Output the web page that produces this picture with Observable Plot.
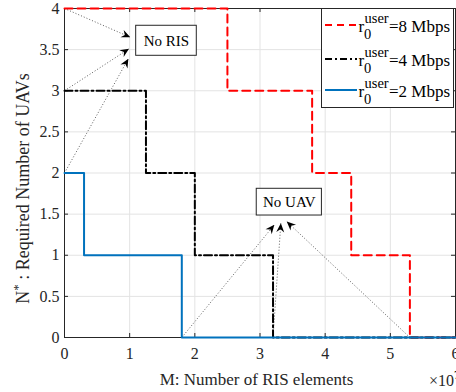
<!DOCTYPE html>
<html>
<head>
<meta charset="utf-8">
<script src="https://cdn.jsdelivr.net/npm/d3@7"></script>
<script src="https://cdn.jsdelivr.net/npm/@observablehq/plot@0.6"></script>
<style>
  html, body { margin: 0; padding: 0; background: #fff; }
  #chart svg { display: block; }
</style>
</head>
<body>
<div id="chart"></div>
<script>
// ---- data ----
const seriesNames = ["8 Mbps", "4 Mbps", "2 Mbps"];
const mRed = [0, 2.5, 3.8, 4.4, 5.3, 6];
const nRed = [4, 3, 2, 1, 0, 0];
const mBlack = [0, 1.25, 2.0, 3.2, 6];
const nBlack = [3, 2, 1, 0, 0];
const mBlue = [0, 0.3, 1.8, 6];
const nBlue = [2, 1, 0, 0];

const xTicks = [0, 1, 2, 3, 4, 5, 6];
const xTickLabels = ["0", "1", "2", "3", "4", "5", "6"];
const yTicks = [0, 0.5, 1, 1.5, 2, 2.5, 3, 3.5, 4];
const yTickLabels = ["0", "0.5", "1", "1.5", "2", "2.5", "3", "3.5", "4"];

const boxLabels = ["No RIS", "No UAV"];
const boxM1 = [1.10, 2.95];
const boxM2 = [2.03, 3.95];
const boxN1 = [3.425, 1.483];
const boxN2 = [3.79, 1.808];

const arrowFromM = [0, 0, 0, 1.8, 3.2, 5.3];
const arrowFromN = [4, 3, 2, 0, 0, 0];
const arrowToM = [1.01, 0.99, 0.98, 3.22, 3.32, 3.41];
const arrowToN = [3.65, 3.51, 3.39, 1.37, 1.39, 1.41];

// ---- helpers ----
const toPts = (ms, ns) => ms.map((m, i) => ({m, n: ns[i]}));
const serif = "'Liberation Serif', 'Times New Roman', serif";
const W = 456, H = 392, ML = 64, MR = 1, MT = 8, MB = 55;
const PW = W - ML - MR, PH = H - MT - MB;

function headMarker(color, context) {
  const doc = (context && context.document) || document;
  const ns = "http://www.w3.org/2000/svg";
  const mk = doc.createElementNS(ns, "marker");
  mk.setAttribute("viewBox", "-10 -5 10 10");
  mk.setAttribute("markerWidth", 10);
  mk.setAttribute("markerHeight", 10);
  mk.setAttribute("markerUnits", "userSpaceOnUse");
  mk.setAttribute("orient", "auto");
  mk.setAttribute("refX", 0);
  mk.setAttribute("refY", 0);
  const p = doc.createElementNS(ns, "path");
  p.setAttribute("d", "M-9,-4L0,0L-9,4L-6,0Z");
  p.setAttribute("fill", "#000");
  p.setAttribute("stroke", "none");
  p.setAttribute("stroke-dasharray", "none");
  mk.appendChild(p);
  return mk;
}

let arrowMark;
try {
  arrowMark = Plot.link(arrowFromM, {
    x1: arrowFromM, y1: arrowFromN, x2: arrowToM, y2: arrowToN,
    stroke: "#333", strokeWidth: 0.8, strokeDasharray: "1,2",
    markerEnd: headMarker
  });
} catch (e) {
  arrowMark = Plot.link(arrowFromM, {
    x1: arrowFromM, y1: arrowFromN, x2: arrowToM, y2: arrowToN,
    stroke: "#333", strokeWidth: 0.8, strokeDasharray: "1,2",
    markerEnd: "arrow"
  });
}

const plot = Plot.plot({
  width: W, height: H,
  marginLeft: ML, marginRight: MR, marginTop: MT, marginBottom: MB,
  style: {fontFamily: serif, background: "#fff", color: "#262626", overflow: "visible"},
  x: {domain: [0, 6]},
  y: {domain: [0, 4]},
  marks: [
    Plot.gridX(xTicks, {stroke: "#e3e3e3", strokeOpacity: 1}),
    Plot.gridY(yTicks, {stroke: "#e3e3e3", strokeOpacity: 1}),
    Plot.frame({stroke: "#262626", strokeWidth: 1}),
    Plot.ruleX(xTicks, {x: d => d, insetTop: PH - 4, stroke: "#262626"}),
    Plot.ruleX(xTicks, {x: d => d, insetBottom: PH - 4, stroke: "#262626"}),
    Plot.ruleY(yTicks, {y: d => d, insetRight: PW - 4, stroke: "#262626"}),
    Plot.ruleY(yTicks, {y: d => d, insetLeft: PW - 4, stroke: "#262626"}),
    Plot.axisX({ticks: xTicks, tickSize: 0, tickPadding: 10, fontSize: 16, label: null, fontFamily: serif,
      tickFormat: d => xTickLabels[xTicks.indexOf(d)], fill: "#262626"}),
    Plot.axisY({ticks: yTicks, tickSize: 0, tickPadding: 5, fontSize: 16, label: null, fontFamily: serif,
      tickFormat: d => yTickLabels[yTicks.indexOf(d)], fill: "#262626"}),
    arrowMark,
    Plot.line(toPts(mRed, nRed), {x: "m", y: "n", curve: "step-after", stroke: "#ff0000", strokeWidth: 2, strokeDasharray: "8,5"}),
    Plot.line(toPts(mBlack, nBlack), {x: "m", y: "n", curve: "step-after", stroke: "#000", strokeWidth: 2, strokeDasharray: "8,3,2,3"}),
    Plot.line(toPts(mBlue, nBlue), {x: "m", y: "n", curve: "step-after", stroke: "#0072bd", strokeWidth: 2}),
    Plot.rect(boxLabels, {x1: boxM1, x2: boxM2, y1: boxN1, y2: boxN2, fill: "#fff", stroke: "#262626", strokeWidth: 1}),
    Plot.text(boxLabels, {
      x: boxM1.map((a, i) => (a + boxM2[i]) / 2),
      y: boxN1.map((a, i) => (a + boxN2[i]) / 2),
      text: d => d, fontSize: 15, fill: "#000", fontFamily: serif
    })
  ]
});

document.getElementById("chart").appendChild(plot);

// ---- labels & legend (text with super/subscripts) ----
const svg = d3.select(plot);
svg.append("text")
  .attr("x", ML + PW / 2 - 3).attr("y", 385)
  .attr("text-anchor", "middle").attr("font-family", serif).attr("font-size", 17).attr("fill", "#262626")
  .text("M: Number of RIS elements");

const mult = svg.append("text")
  .attr("x", 429).attr("y", 386).attr("text-anchor", "start")
  .attr("font-family", serif).attr("font-size", 16).attr("fill", "#262626");
mult.append("tspan").text("×10");
mult.append("tspan").attr("dy", -7).attr("font-size", 12).text("7");

const yl = svg.append("text")
  .attr("transform", `translate(29,${MT + PH / 2 + 16}) rotate(-90)`)
  .attr("text-anchor", "middle").attr("font-family", serif).attr("font-size", 18).attr("fill", "#262626");
yl.append("tspan").text("N");
yl.append("tspan").attr("dy", -7).attr("font-size", 13).text("*");
yl.append("tspan").attr("dy", 7).text(" : Required Number of UAVs");

const lg = svg.append("g").attr("text-anchor", "start").attr("font-family", serif).attr("fill", "#000");
lg.append("rect").attr("x", 321.5).attr("y", 8.5).attr("width", 132).attr("height", 99)
  .attr("fill", "#fff").attr("stroke", "#262626").attr("stroke-width", 1);
const legendStyles = [
  {stroke: "#ff0000", dash: "7,5"},
  {stroke: "#000", dash: "7,3,2,3"},
  {stroke: "#0072bd", dash: null}
];
const rowY = [25, 59, 90];
seriesNames.forEach((name, i) => {
  const y = rowY[i];
  const ln = lg.append("line").attr("x1", 325).attr("x2", 357).attr("y1", y).attr("y2", y)
    .attr("stroke", legendStyles[i].stroke).attr("stroke-width", 2);
  if (legendStyles[i].dash) ln.attr("stroke-dasharray", legendStyles[i].dash);
  lg.append("text").attr("x", 358.5).attr("y", y + 7).attr("font-size", 17).text("r");
  lg.append("text").attr("x", 364.5).attr("y", y - 2.5).attr("font-size", 14.5).text("user");
  lg.append("text").attr("x", 364).attr("y", y + 13.5).attr("font-size", 14.5).text("0");
  lg.append("text").attr("x", 389).attr("y", y + 7).attr("font-size", 17).text("=" + name);
});
</script>
</body>
</html>
